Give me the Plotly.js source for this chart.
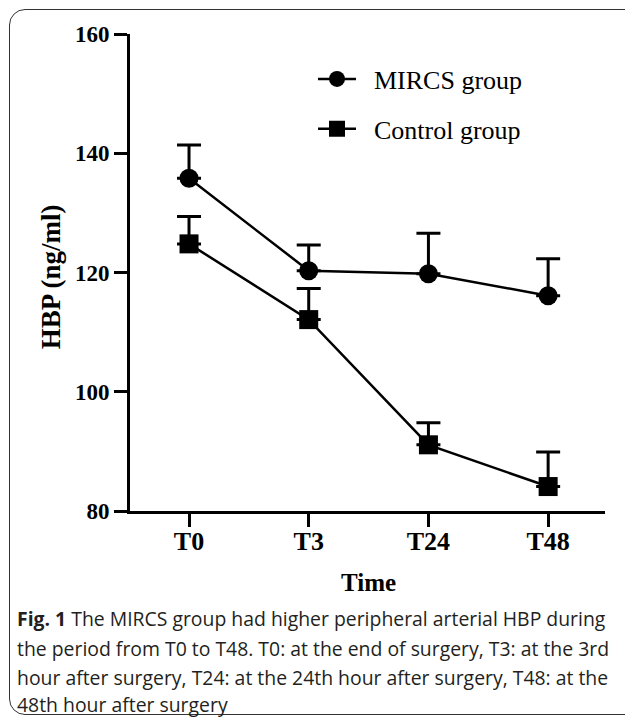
<!DOCTYPE html>
<html>
<head>
<meta charset="utf-8">
<script src="https://cdn.plot.ly/plotly-3.0.1.min.js"></script>
<style>
  html, body { margin: 0; padding: 0; background: #ffffff; }
  #wrap { position: relative; width: 625px; height: 719px; overflow: hidden; }
  #frame { position: absolute; left: 9px; top: 9px; width: 720px; height: 706px;
           border: 1.6px solid #333; border-radius: 16px; box-sizing: border-box; }
  #chart { position: absolute; left: 0; top: 0; width: 625px; height: 719px; }
</style>
</head>
<body>
<div id="wrap">
  <div id="frame"></div>
  <div id="chart"></div>
</div>
<script>
// ---- data ----
var timePoints = ['T0', 'T3', 'T24', 'T48'];
var mircsMean = [135.8, 120.3, 119.8, 116.1];
var mircsErr  = [5.6, 4.3, 6.8, 6.2];
var controlMean = [124.8, 112.1, 91.1, 84.1];
var controlErr  = [4.6, 5.2, 3.7, 5.8];
var yTicks = [80, 100, 120, 140, 160];
var seriesNames = ['MIRCS group', 'Control group'];
var captionLines = [
  '<b>Fig. 1</b> The MIRCS group had higher peripheral arterial HBP during',
  'the period from T0 to T48. T0: at the end of surgery, T3: at the 3rd',
  'hour after surgery, T24: at the 24th hour after surgery, T48: at the',
  '48th hour after surgery'
];

var W = 625, H = 719;
var mL = 130, mR = 20, mT = 33.5, mB = 208;
var plotW = W - mL - mR, plotH = H - mT - mB;
function px2x(p) { return (p - mL) / plotW; }
function px2y(p) { return (H - mB - p) / plotH; }

var serif = 'Liberation Serif, Times New Roman, serif';
var zeros = timePoints.map(function () { return 0; });
var pad = '\u00a0\u00a0';

var traces = [
  {
    x: timePoints, y: mircsMean, name: pad + seriesNames[0], type: 'scatter',
    mode: 'lines+markers', legendgroup: 'a',
    line: { color: '#000', width: 2.5 },
    marker: { symbol: 'circle', size: 19, color: '#000' },
    error_y: { type: 'data', symmetric: false, array: mircsErr, arrayminus: zeros,
               color: '#000', thickness: 3, width: 12 }
  },
  {
    x: timePoints, y: controlMean, name: pad + seriesNames[1], type: 'scatter',
    mode: 'lines+markers', legendgroup: 'b',
    line: { color: '#000', width: 2.5 },
    marker: { symbol: 'square', size: 19, color: '#000' },
    error_y: { type: 'data', symmetric: false, array: controlErr, arrayminus: zeros,
               color: '#000', thickness: 3, width: 12 }
  }
];

var annotations = [
  { text: '<b>Time</b>', xref: 'paper', yref: 'paper', x: px2x(368), y: px2y(583),
    xanchor: 'center', yanchor: 'middle', showarrow: false,
    font: { family: serif, size: 25, color: '#000' } },
  { text: '<b>HBP (ng/ml)</b>', xref: 'paper', yref: 'paper', x: px2x(51), y: px2y(277),
    xanchor: 'center', yanchor: 'middle', showarrow: false, textangle: -90,
    font: { family: serif, size: 27, color: '#000' } }
];
var capY = [619, 649, 678, 705];
captionLines.forEach(function (t, i) {
  annotations.push({
    text: t, xref: 'paper', yref: 'paper', x: px2x(15), y: px2y(capY[i]),
    xanchor: 'left', yanchor: 'middle', showarrow: false, align: 'left',
    font: { family: 'Open Sans, sans-serif', size: 19.4, color: '#231f20' }
  });
});

var layout = {
  width: W, height: H,
  margin: { l: mL, r: mR, t: mT, b: mB, pad: 0 },
  paper_bgcolor: 'rgba(0,0,0,0)', plot_bgcolor: 'rgba(0,0,0,0)',
  showlegend: true,
  legend: {
    x: px2x(313), y: px2y(55), xanchor: 'left', yanchor: 'top',
    traceorder: 'grouped', tracegroupgap: 13, itemwidth: 38,
    bgcolor: 'rgba(0,0,0,0)',
    font: { family: serif, size: 26, color: '#000' }
  },
  xaxis: {
    type: 'category', range: [-0.493, 3.475],
    showline: true, linecolor: '#000', linewidth: 3,
    ticks: 'outside', ticklen: 13, tickwidth: 3, tickcolor: '#000',
    ticklabelstandoff: -8,
    showgrid: false, zeroline: false, fixedrange: true,
    tickfont: { family: serif, size: 26, color: '#000', weight: 'bold' }
  },
  yaxis: {
    range: [80, 160], tickvals: yTicks, ticktext: yTicks.map(String),
    showline: true, linecolor: '#000', linewidth: 3,
    ticks: 'outside', ticklen: 13, tickwidth: 3, tickcolor: '#000',
    showgrid: false, zeroline: false, fixedrange: true,
    tickfont: { family: serif, size: 23, color: '#000', weight: 'bold' }
  },
  annotations: annotations
};

Plotly.newPlot('chart', traces, layout, { displayModeBar: false, staticPlot: true });
</script>
</body>
</html>
